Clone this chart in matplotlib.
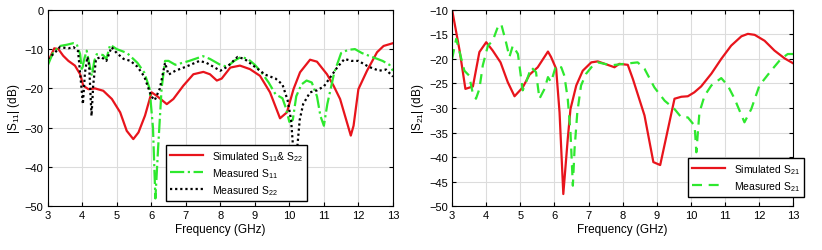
import matplotlib
matplotlib.use("Agg")
import matplotlib.pyplot as plt

plt.rcParams['font.family'] = ['Liberation Sans', 'DejaVu Sans']
plt.rcParams['mathtext.fontset'] = 'custom'
plt.rcParams['mathtext.rm'] = 'Liberation Sans'
plt.rcParams['mathtext.it'] = 'Liberation Sans'

# ---- left panel: reflection ----
sim11_f = [3, 3.19, 3.31, 3.45, 3.6, 3.79, 3.94, 4.03, 4.18, 4.37, 4.61, 4.86, 5.1, 5.29,
           5.48, 5.63, 5.82, 6.01, 6.16, 6.45, 6.64, 6.93, 7.22, 7.51, 7.7, 7.9, 8.04, 8.29,
           8.57, 8.86, 9.15, 9.44, 9.73, 9.93, 10.12, 10.31, 10.6, 10.8, 11.09, 11.28, 11.47,
           11.78, 11.86, 12.0, 12.25, 12.54, 12.73, 13]
sim11_db = [-13.4, -9.8, -10, -11.7, -13, -14.2, -16.4, -19.3, -20.2, -20, -20.6, -22.7, -26.1,
            -30.8, -32.9, -31.2, -26.9, -21, -21.9, -24, -22.7, -19.3, -16.4, -15.8, -16.4, -18,
            -17.5, -14.7, -14.2, -15.1, -16.8, -21, -27.6, -26.1, -20.2, -15.9, -12.7, -13.2,
            -16.4, -19.3, -22.7, -32, -29.5, -20.2, -15.5, -10.8, -9.2, -8.5]

meas11_f = [3, 3.16, 3.36, 3.55, 3.74, 3.84, 3.94, 3.99, 4.06, 4.13, 4.2, 4.28, 4.35, 4.42,
            4.6, 4.7, 4.81, 5.0, 5.3, 5.6, 5.8, 5.95, 6.05, 6.12, 6.2, 6.3, 6.4, 6.5, 6.7, 6.9,
            7.1, 7.5, 7.7, 8.0, 8.2, 8.4, 8.6, 8.8, 9.0, 9.2, 9.4, 9.6, 9.8, 9.9, 10.0, 10.1,
            10.2, 10.35, 10.5, 10.65, 10.8, 10.9, 11.0, 11.1, 11.3, 11.5, 11.7, 11.9, 12.1,
            12.4, 12.7, 12.9, 13]
meas11_db = [-14.2, -10.8, -9.2, -8.9, -8.5, -8.7, -11.3, -15.5, -12.5, -10.4, -13.5, -16.8,
             -13, -11.3, -11.5, -12.5, -8.9, -10, -11, -13.5, -16, -20, -30, -48, -35, -20, -13,
             -13, -14, -13.5, -13, -11.8, -12.5, -14, -14.5, -13, -12, -12.5, -14, -16, -18.5,
             -21.5, -22.5, -25, -28.5, -28, -22, -19, -18, -18.5, -22, -27, -29.5, -24, -16,
             -11, -10.2, -10, -11, -12, -13, -14, -15.5]

meas22_f = [3, 3.2, 3.35, 3.6, 3.75, 3.88, 3.97, 4.02, 4.08, 4.15, 4.2, 4.27, 4.32, 4.4, 4.55,
            4.7, 4.85, 5.0, 5.2, 5.4, 5.6, 5.8, 6.0, 6.1, 6.25, 6.4, 6.5, 6.7, 7.0, 7.4, 7.6,
            8.0, 8.2, 8.5, 8.7, 9.0, 9.3, 9.6, 9.8, 9.95, 10.05, 10.1, 10.15, 10.18, 10.22,
            10.3, 10.4, 10.6, 10.8, 11.0, 11.2, 11.4, 11.6, 11.8, 12.0, 12.3, 12.6, 12.8, 13]
meas22_db = [-12.5, -11, -9.5, -9.8, -9.5, -10.5, -19, -24, -16, -12, -14, -27, -19, -12.5,
             -12, -13, -9.5, -11, -12.5, -13, -14.5, -17, -22, -23, -20, -13.5, -16.5, -15.5,
             -14.5, -13, -13.5, -15.5, -14.5, -12, -12.5, -14.5, -16.5, -17.5, -19, -23, -28,
             -34, -41, -43, -36, -28, -24, -21, -20.5, -19.5, -17, -14.5, -12.5, -13, -13,
             -14.5, -15.5, -15.2, -17]

# ---- right panel: transmission ----
sim21_f = [3, 3.22, 3.39, 3.61, 3.8, 4.0, 4.19, 4.42, 4.63, 4.83, 5.07, 5.27, 5.51, 5.81, 5.9,
           6.05, 6.15, 6.26, 6.39, 6.47, 6.64, 6.83, 7.08, 7.27, 7.56, 7.76, 7.9, 8.15, 8.3,
           8.64, 8.9, 9.1, 9.52, 9.72, 9.91, 10.1, 10.3, 10.6, 10.89, 11.18, 11.48, 11.67,
           11.87, 12.16, 12.45, 12.75, 13]
sim21_db = [-10, -18.3, -26.1, -25.6, -18.6, -16.6, -18.3, -20.7, -24.7, -27.6, -25.8, -23.2,
            -21.7, -18.5, -19.6, -22, -30.9, -47.5, -36.3, -30.2, -25.4, -22.4, -20.7, -20.5,
            -21.2, -21.7, -21, -21.2, -24.1, -31.5, -41, -41.6, -28.1, -27.7, -27.6, -26.8,
            -25.6, -23, -20, -17.3, -15.4, -14.9, -15.1, -16.3, -18.3, -19.9, -20.9]

meas21_f = [3, 3.12, 3.36, 3.5, 3.6, 3.7, 3.8, 3.9, 4.05, 4.19, 4.34, 4.44, 4.58, 4.68, 4.78,
            4.93, 5.07, 5.17, 5.32, 5.46, 5.56, 5.71, 5.81, 5.9, 6.05, 6.2, 6.29, 6.39, 6.47,
            6.54, 6.59, 6.67, 6.78, 6.93, 7.13, 7.27, 7.66, 8.05, 8.44, 8.64, 8.93, 9.23, 9.52,
            9.72, 9.91, 10.11, 10.16, 10.25, 10.4, 10.6, 10.89, 11.08, 11.28, 11.57, 11.77,
            12.01, 12.35, 12.64, 12.84, 13]
meas21_db = [-20, -15.9, -22.4, -23.4, -26.8, -28.1, -26.1, -21.3, -17.3, -16.3, -13.5, -12.9,
             -16.6, -19.6, -17.3, -19, -26.4, -24.7, -21.7, -22.7, -28.1, -26.1, -23.7, -24.7,
             -21.3, -21.7, -23.4, -28.1, -34.9, -45.8, -38.3, -30.9, -25.4, -23, -21.3, -20.7,
             -21.3, -21, -20.7, -22, -25.8, -28.5, -30.2, -31.9, -31.9, -33.6, -39, -30.9,
             -27.5, -25.4, -23.9, -25.4, -28.1, -32.9, -30.2, -25.4, -22.4, -20, -19, -19]

red = '#e8141c'
green = '#2ee82e'

fig = plt.figure(figsize=(8.22, 2.51), dpi=100)
ax1 = fig.add_axes([0.058, 0.174, 0.420, 0.783])
ax2 = fig.add_axes([0.550, 0.174, 0.415, 0.783])

ax1.plot(sim11_f, sim11_db, color=red, lw=1.6, label='Simulated S$_{11}$& S$_{22}$')
ax1.plot(meas11_f, meas11_db, color=green, lw=1.6, ls='-.', label='Measured S$_{11}$')
ax1.plot(meas22_f, meas22_db, color='black', lw=1.6, ls=(0, (1, 1.3)), label='Measured S$_{22}$')
ax1.set_ylim(-50, 0)
ax1.set_yticks(range(-50, 1, 10))
ax1.set_ylabel('|S$_{11}$| (dB)', fontsize=8.5, labelpad=2)
ax1.legend(loc='lower left', bbox_to_anchor=(0.342, 0.028), fontsize=7.5, fancybox=False,
           edgecolor='black', framealpha=1, borderaxespad=0, handlelength=3.2,
           labelspacing=0.3)

ax2.plot(sim21_f, sim21_db, color=red, lw=1.6, label='Simulated S$_{21}$')
ax2.plot(meas21_f, meas21_db, color=green, lw=1.6, ls=(0, (4.5, 3)), label='Measured S$_{21}$')
ax2.set_ylim(-50, -10)
ax2.set_yticks(range(-50, -9, 5))
ax2.set_ylabel('|S$_{21}$| (dB)', fontsize=8.5, labelpad=2)
ax2.legend(loc='lower left', bbox_to_anchor=(0.691, 0.049), fontsize=7.5, fancybox=False,
           edgecolor='black', framealpha=1, borderaxespad=0, handlelength=3.2,
           labelspacing=0.3)

for ax in (ax1, ax2):
    ax.set_xlim(3, 13)
    ax.set_xticks(range(3, 14))
    ax.set_xlabel('Frequency (GHz)', fontsize=8.5, labelpad=2)
    ax.grid(True, color='#dcdcdc', lw=0.8)
    ax.set_axisbelow(True)
    ax.tick_params(labelsize=8, direction='in', length=3, top=True, right=True, pad=3)
    for s in ax.spines.values():
        s.set_linewidth(0.8)

fig.savefig('out.png', dpi=100)
